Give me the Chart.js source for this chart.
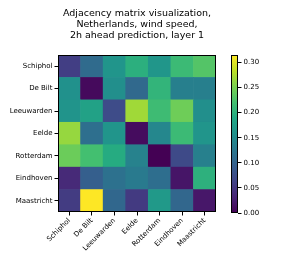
<!DOCTYPE html>
<html lang="en">
<head>
  <meta charset="UTF-8" />
  <title>Adjacency matrix</title>
  <script src="https://cdn.jsdelivr.net/npm/chart.js"></script>
  <style>
    body { margin: 0; background: white; }
    #wrap { position: relative; width: 283px; height: 265px; }
    canvas { position: absolute; left: 0; top: 0; }
    #title {
      position: absolute; left: 37px; width: 200px; top: 7px;
      text-align: center; font-family: "DejaVu Sans", sans-serif;
      font-size: 9.5px; line-height: 11px; color: #000;
    }
  </style>
</head>
<body>
  <div id="wrap">
    <canvas id="heat" width="283" height="265"></canvas>
    <canvas id="cbar" width="283" height="265"></canvas>
    <div id="title">Adjacency matrix visualization,<br>Netherlands, wind speed,<br>2h ahead prediction, layer 1</div>
  </div>

  <script>
    const stations = ["Schiphol", "De Bilt", "Leeuwarden", "Eelde", "Rotterdam", "Eindhoven", "Maastricht"];

    // one row per station (source), columns in the same order
    const rowSchiphol   = [0.057, 0.110, 0.163, 0.198, 0.164, 0.213, 0.230];
    const rowDeBilt     = [0.157, 0.008, 0.155, 0.107, 0.205, 0.135, 0.135];
    const rowLeeuwarden = [0.162, 0.180, 0.072, 0.270, 0.215, 0.245, 0.155];
    const rowEelde      = [0.265, 0.115, 0.163, 0.010, 0.145, 0.213, 0.163];
    const rowRotterdam  = [0.243, 0.220, 0.193, 0.138, 0.000, 0.070, 0.136];
    const rowEindhoven  = [0.037, 0.095, 0.117, 0.128, 0.114, 0.018, 0.200];
    const rowMaastricht = [0.055, 0.315, 0.105, 0.053, 0.168, 0.104, 0.020];
    const rows = [rowSchiphol, rowDeBilt, rowLeeuwarden, rowEelde, rowRotterdam, rowEindhoven, rowMaastricht];

    const vmin = 0, vmax = 0.315;
    const cbTicks = [0, 0.05, 0.10, 0.15, 0.20, 0.25, 0.30];

    const viridis = ["#440154", "#482475", "#414487", "#355f8d", "#2a788e", "#21918c",
                     "#22a884", "#44bf70", "#7ad151", "#bddf26", "#fde725"];

    function hex(c) { return [1, 3, 5].map(i => parseInt(c.substr(i, 2), 16)); }
    function cmap(v) {
      let t = Math.min(1, Math.max(0, (v - vmin) / (vmax - vmin))) * (viridis.length - 1);
      let i = Math.min(Math.floor(t), viridis.length - 2), f = t - i;
      let a = hex(viridis[i]), b = hex(viridis[i + 1]);
      return "rgb(" + a.map((x, k) => Math.round(x + (b[k] - x) * f)).join(",") + ")";
    }

    const frame = {
      id: "frame",
      afterDraw(chart) {
        const a = chart.chartArea, ctx = chart.ctx;
        ctx.save();
        ctx.strokeStyle = "#000";
        ctx.lineWidth = 1;
        ctx.strokeRect(Math.round(a.left) + 0.5, Math.round(a.top) + 0.5,
                       Math.round(a.right - a.left) - 1, Math.round(a.bottom - a.top) - 1);
        ctx.restore();
      }
    };

    const tickFont = { family: "DejaVu Sans", size: 7 };
    Chart.defaults.color = "#000";

    // bottom dataset = last row, so Schiphol ends up on top
    const datasets = rows.slice().reverse().map(r => ({
      data: r.map(() => 1),
      backgroundColor: r.map(cmap),
      borderWidth: 0,
      categoryPercentage: 1,
      barPercentage: 1
    }));

    new Chart(document.getElementById("heat"), {
      type: "bar",
      data: { labels: stations, datasets: datasets },
      options: {
        responsive: false,
        animation: false,
        layout: { padding: { top: 55, left: 0, right: 67, bottom: 0 } },
        plugins: { legend: { display: false }, tooltip: { enabled: false } },
        scales: {
          x: {
            stacked: true,
            grid: { offset: false, drawOnChartArea: false, tickLength: 3.5, color: "#000" },
            border: { display: false },
            ticks: { font: tickFont, maxRotation: 45, minRotation: 45, padding: 1 },
            afterFit(s) { s.height = 53; }
          },
          y: {
            stacked: true,
            min: 0, max: stations.length,
            grid: { drawOnChartArea: false, tickLength: 3.5, color: "#000" },
            border: { display: false },
            afterBuildTicks(s) { s.ticks = stations.map((_, i) => ({ value: i + 0.5 })); },
            ticks: {
              font: tickFont, padding: 2,
              callback: v => stations[stations.length - 1 - Math.floor(v)]
            },
            afterFit(s) { s.width = 58; }
          }
        }
      },
      plugins: [frame]
    });

    new Chart(document.getElementById("cbar"), {
      type: "bar",
      data: {
        labels: [""],
        datasets: [{
          data: [vmax],
          borderWidth: 0,
          categoryPercentage: 1,
          barPercentage: 1,
          backgroundColor(ctx) {
            const a = ctx.chart.chartArea;
            if (!a) return viridis[5];
            const g = ctx.chart.ctx.createLinearGradient(0, a.bottom, 0, a.top);
            viridis.forEach((c, i) => g.addColorStop(i / (viridis.length - 1), c));
            return g;
          }
        }]
      },
      options: {
        responsive: false,
        animation: false,
        layout: { padding: { top: 55, left: 231, right: 0, bottom: 52 } },
        plugins: { legend: { display: false }, tooltip: { enabled: false } },
        scales: {
          x: { display: false },
          y: {
            position: "right",
            min: vmin, max: vmax,
            grid: { drawOnChartArea: false, tickLength: 3.5, color: "#000" },
            border: { display: false },
            afterBuildTicks(s) { s.ticks = cbTicks.map(v => ({ value: v })); },
            ticks: { font: tickFont, padding: 2, callback: v => v.toFixed(2) },
            afterFit(s) { s.width = 45; }
          }
        }
      },
      plugins: [frame]
    });
  </script>
</body>
</html>
